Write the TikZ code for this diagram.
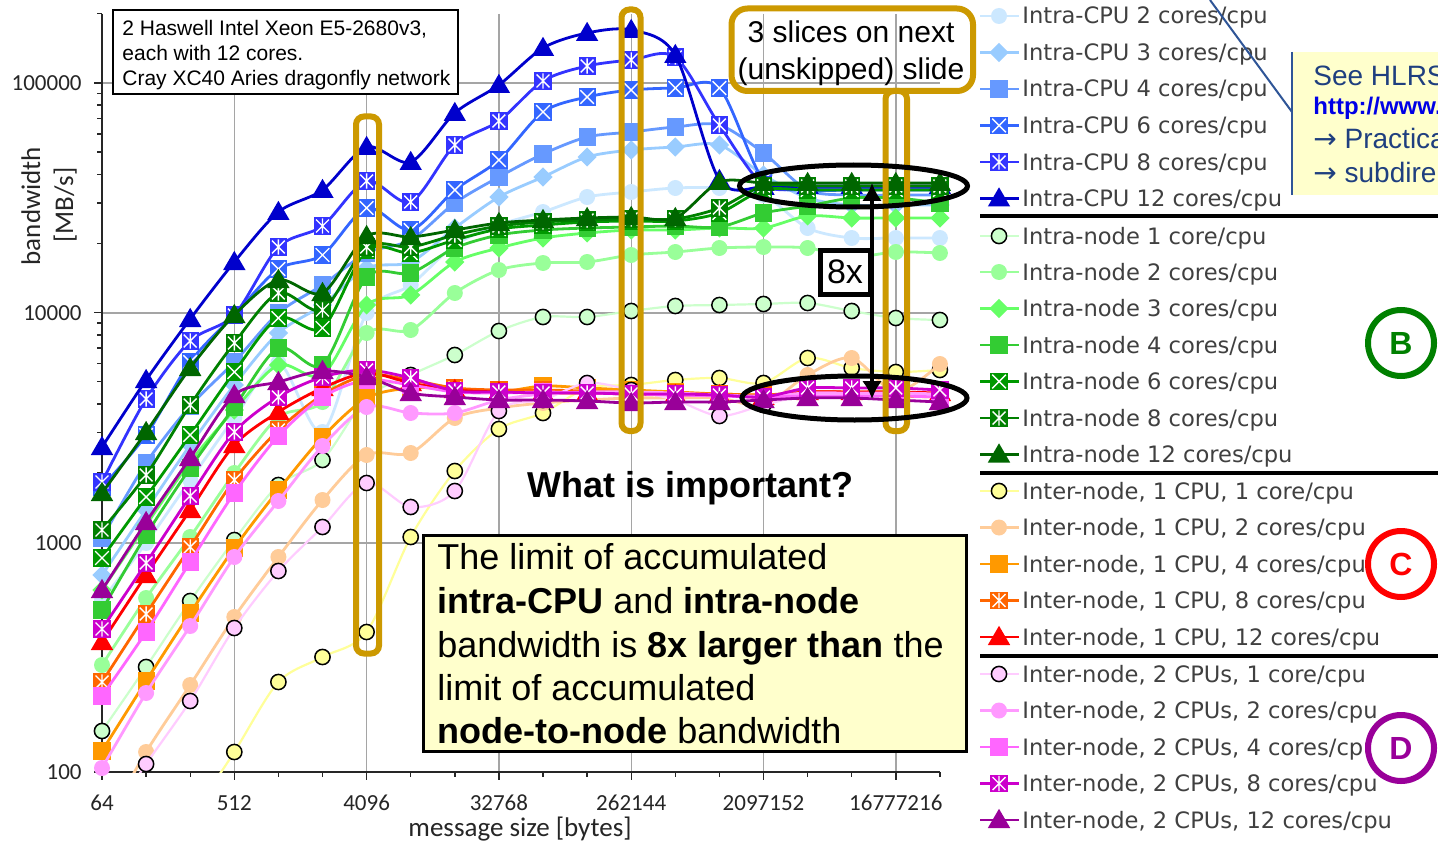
\documentclass[tikz,border=0pt]{standalone}
\usepackage{fontspec}
\setmainfont{Liberation Sans}
\newfontfamily\calfont{Carlito}
\newfontfamily\dvfont{DejaVu Sans}
\usetikzlibrary{arrows.meta}

\definecolor{cA}{RGB}{204,232,255}
\definecolor{cB}{RGB}{153,204,255}
\definecolor{cC}{RGB}{102,153,255}
\definecolor{cD}{RGB}{51,102,255}
\definecolor{cE}{RGB}{51,51,255}
\definecolor{cF}{RGB}{0,0,204}
\definecolor{gA}{RGB}{204,255,204}
\definecolor{gB}{RGB}{153,255,153}
\definecolor{gC}{RGB}{102,255,102}
\definecolor{gD}{RGB}{51,204,51}
\definecolor{gE}{RGB}{0,153,0}
\definecolor{gF}{RGB}{0,128,0}
\definecolor{gG}{RGB}{0,102,0}
\definecolor{yA}{RGB}{255,255,153}
\definecolor{yB}{RGB}{255,204,153}
\definecolor{yC}{RGB}{255,153,0}
\definecolor{yD}{RGB}{255,102,0}
\definecolor{yE}{RGB}{255,0,0}
\definecolor{pA}{RGB}{255,204,255}
\definecolor{pB}{RGB}{255,153,255}
\definecolor{pC}{RGB}{255,102,255}
\definecolor{pD}{RGB}{204,0,204}
\definecolor{pE}{RGB}{153,0,153}
\definecolor{goldc}{RGB}{204,153,0}
\definecolor{legtxt}{RGB}{64,64,64}
\definecolor{gridc}{RGB}{165,165,165}
\definecolor{hlrsblue}{RGB}{31,63,127}
\definecolor{hlrsbg}{RGB}{255,255,204}
\definecolor{callout}{RGB}{47,85,151}
\definecolor{linkblue}{RGB}{0,0,230}
\definecolor{noteyellow}{RGB}{255,255,204}
\definecolor{circB}{RGB}{0,128,0}
\definecolor{circD}{RGB}{153,0,153}

% markers
\newcommand\mkcirc[3]{\fill[#3] (#1,#2) circle[radius=4pt];}
\newcommand\mkcircb[3]{\filldraw[fill=#3,draw=black,line width=0.75pt] (#1,#2) circle[radius=3.8pt];}
\newcommand\mkdia[3]{\fill[#3,shift={(#1,#2)}] (0,4.8pt) -- (4.8pt,0) -- (0,-4.8pt) -- (-4.8pt,0) -- cycle;}
\newcommand\mksq[3]{\fill[#3,shift={(#1,#2)}] (-4.3pt,-4.3pt) rectangle (4.3pt,4.3pt);}
\newcommand\mkxb[3]{\fill[#3,shift={(#1,#2)}] (-4.3pt,-4.3pt) rectangle (4.3pt,4.3pt);
  \draw[white,line width=0.7pt,shift={(#1,#2)}] (-3.4pt,-3.4pt) -- (3.4pt,3.4pt) (-3.4pt,3.4pt) -- (3.4pt,-3.4pt);}
\newcommand\mkstb[3]{\fill[#3,shift={(#1,#2)}] (-4.3pt,-4.3pt) rectangle (4.3pt,4.3pt);
  \draw[white,line width=0.7pt,shift={(#1,#2)}] (-3.2pt,-3.2pt) -- (3.2pt,3.2pt) (-3.2pt,3.2pt) -- (3.2pt,-3.2pt) (0,-3.8pt) -- (0,3.8pt);}
\newcommand\mktri[3]{\fill[#3,shift={(#1,#2)}] (0,5.6pt) -- (5.6pt,-4pt) -- (-5.6pt,-4pt) -- cycle;}

% data series: #1 line style, #2 marker, #3 colour, #4 y list (pixels)
\newcommand\series[4]{%
  \gdef\coordlist{}%
  \foreach \yy [count=\ii from 0] in {#4}{%
    \pgfmathsetmacro\xx{102+44.1*\ii}%
    \xdef\coordlist{\coordlist (\xx,\yy)}}%
  \begin{scope}
    \clip (102,14) rectangle (940,772);
    \edef\tmp{\noexpand\draw[#1] plot[smooth,tension=0.5] coordinates {\coordlist};}\tmp
  \end{scope}
  \foreach \yy [count=\ii from 0] in {#4}{%
    \pgfmathsetmacro\xx{102+44.1*\ii}%
    \ifdim\yy pt<776pt\relax \csname mk#2\endcsname{\xx}{\yy}{#3}\fi}%
}

% legend row: #1 name, #2 y, #3 colour, #4 marker, #5 line width, #6 text
\newcommand\legrow[6]{%
  \draw[#3,line width=#5] (980,#2) -- (1019,#2);
  \csname mk#4\endcsname{999}{#2}{#3}%
  \node[legtext,anchor=base west] (#1) at (1022,#2+8) {#6};}

\begin{document}
\begin{tikzpicture}[x=0.5pt,y=-0.5pt,
  legtext/.style={inner sep=0pt,text=legtxt,font=\dvfont\fontsize{11.3}{13}\selectfont},
  ticklab/.style={inner sep=0pt,text=black!85,font=\calfont\fontsize{11.5}{13}\selectfont},
  axtitle/.style={inner sep=0pt,text=black!85,font=\calfont\fontsize{13.5}{15}\selectfont},
  gridline/.style={gridc,line width=0.7pt},
  axisline/.style={black!85,line width=0.7pt},
  goldbox/.style={goldc,line width=3pt},
  notetext/.style={inner sep=0pt,anchor=base west,font=\fontsize{18}{21}\selectfont},
  infotext/.style={inner sep=0pt,anchor=base west,font=\fontsize{10.5}{12}\selectfont},
  hlrstext/.style={inner sep=0pt,anchor=base west,text=hlrsblue,font=\fontsize{14}{16}\selectfont},
  sep/.style={black,line width=1.6pt},
  letterring/.style={line width=3pt,fill=white}]
\useasboundingbox (0,0) rectangle (1438,845);
\fill[white] (0,0) rectangle (1438,845);

% grid
\foreach \gx in {3,6,9,12,15,18} \draw[gridline] ({102+44.1*\gx},14) -- ({102+44.1*\gx},772);
\foreach \gy in {83,313,543} \draw[gridline] (102,\gy) -- (940,\gy);

% axes
\draw[axisline] (102,14) -- (102,772) -- (940,772);
\foreach \d in {0,1,2,3}{%
  \draw[axisline] (94,{772-229.7*\d}) -- (102,{772-229.7*\d});
  \foreach \k in {2,...,9} \draw[axisline] (97,{772-229.7*(\d+log10(\k))}) -- (102,{772-229.7*(\d+log10(\k))});
}
\draw[axisline] (97,13.8) -- (102,13.8);
\foreach \ii in {0,...,19} \draw[axisline] ({102+44.1*\ii},772) -- ({102+44.1*\ii},777);
\foreach \ii in {0,3,...,18} \draw[axisline] ({102+44.1*\ii},772) -- ({102+44.1*\ii},780);

% tick labels
\node[ticklab,anchor=east] (y5) at (82,83) {100000};
\node[ticklab,anchor=east] (y4) at (82,313) {10000};
\node[ticklab,anchor=east] (y3) at (82,543) {1000};
\node[ticklab,anchor=east] (y2) at (82,772) {100};
\node[ticklab,anchor=base] (x6) at (102,810) {64};
\node[ticklab,anchor=base] (x9) at (234.3,810) {512};
\node[ticklab,anchor=base] (x12) at (366.6,810) {4096};
\node[ticklab,anchor=base] (x15) at (498.9,810) {32768};
\node[ticklab,anchor=base] (x18) at (631.2,810) {262144};
\node[ticklab,anchor=base] (x21) at (763.5,810) {2097152};
\node[ticklab,anchor=base] (x24) at (895.8,810) {16777216};
\node[axtitle,anchor=base] (xt) at (520,836) {message size [bytes]};
\node[axtitle,anchor=base,rotate=90] (yt1) at (40,206) {bandwidth};
\node[axtitle,anchor=base,rotate=90] (yt2) at (73,205) {[MB/s]};

% series
\series{cA,line width=1.4pt}{circ}{cA}{600,543,480,418,363,432,313,285,245,225,212,197,192,188,188,195,228,238,238,238}
\series{cB,line width=1.4pt}{dia}{cB}{575,510,445,385,333,305,268,262,228,197,177,157,150,147,145,175,198,205,205,205}
\series{cC,line width=1.4pt}{sq}{cC}{538,463,406,362,313,285,253,240,203,177,154,137,132,127,125,153,190,195,195,195}
\series{cD,line width=1.4pt}{xb}{cD}{487,435,362,315,269,255,208,230,190,160,112,97,90,88,88,180,190,190,190,190}
\series{cE,line width=1.4pt}{stb}{cE}{482,399,341,315,247,226,181,202,145,121,81,66,60,57,125,185,188,188,188,188}
\series{cF,line width=1.4pt}{tri}{cF}{447,380,319,262,212,190,147,162,113,85,48,33,30,55,180,187,186,186,186,186}
\series{gA,line width=1.1pt}{circb}{gA}{731,667,601,540,485,460,398,375,355,331,317,317,311,306,305,304,303,311,318,320}
\series{gB,line width=1.4pt}{circ}{gB}{665,598,537,473,417,402,333,330,293,270,263,262,255,252,248,247,248,257,252,253}
\series{gC,line width=1.4pt}{dia}{gC}{590,525,462,410,365,375,305,295,262,248,238,233,230,230,228,228,216,218,218,218}
\series{gD,line width=1.4pt}{sq}{gD}{610,535,468,407,348,365,277,273,248,235,230,228,227,226,227,213,206,198,198,203}
\series{gE,line width=1.4pt}{xb}{gE}{558,497,435,372,318,328,250,253,240,229,225,222,221,221,213,190,190,190,190,190}
\series{gF,line width=1.4pt}{stb}{gF}{530,475,405,343,293,310,247,247,235,226,222,220,219,219,208,186,186,186,186,186}
\series{gG,line width=1.4pt}{tri}{gG}{493,432,368,315,280,293,236,237,230,223,220,218,217,218,182,183,183,183,183,183}
\series{yA,line width=1.1pt}{circb}{yA}{1000,900,820,752,682,657,632,537,471,429,413,388,385,380,378,383,358,368,372,370}
\series{yB,line width=1.4pt}{circ}{yB}{830,752,685,617,557,500,455,453,418,408,403,400,398,398,398,405,375,358,392,364}
\series{yC,line width=1.4pt}{sq}{yC}{751,681,613,548,490,437,398,388,389,392,386,388,390,392,394,395,395,395,396,397}
\series{yD,line width=1.4pt}{stb}{yD}{682,614,547,480,430,395,375,380,388,390,390,391,392,393,394,395,392,392,392,395}
\series{yE,line width=1.4pt}{tri}{yE}{642,575,510,445,412,388,373,383,390,392,393,393,394,395,395,397,392,392,392,393}
\series{pA,line width=1.1pt}{circb}{pA}{830,764,701,628,571,527,483,507,491,411,400,383,390,400,416,405,395,395,395,395}
\series{pB,line width=1.4pt}{circ}{pB}{768,693,626,557,501,446,407,413,413,400,394,392,392,393,395,396,393,393,393,394}
\series{pC,line width=1.4pt}{sq}{pC}{696,632,562,493,436,397,380,385,392,393,392,393,394,395,396,397,396,396,396,397}
\series{pD,line width=1.4pt}{stb}{pD}{629,563,496,432,397,377,370,378,391,392,393,393,394,394,395,397,388,388,388,390}
\series{pE,line width=1.4pt}{tri}{pE}{590,522,458,395,382,371,377,393,397,400,400,401,403,402,402,400,398,398,400,402}

% gold slice boxes
\draw[goldbox,rounded corners=4pt] (356,116.5) rectangle (379,653.5);
\draw[goldbox,rounded corners=4pt] (621.5,9.5) rectangle (640.5,431);
\draw[goldbox,rounded corners=4pt] (885.5,91) rectangle (907,431);
\draw[goldbox,rounded corners=8pt] (731.5,8.5) rectangle (973,91);
\node[inner sep=0pt,anchor=base,font=\fontsize{15}{17}\selectfont] (sl1) at (851,43) {3 slices on next};
\node[inner sep=0pt,anchor=base,font=\fontsize{15}{17}\selectfont] (sl2) at (851,80) {(unskipped) slide};

% ellipses and 8x arrow
\draw[black,line width=2.5pt] (853.5,186) ellipse [x radius=57pt, y radius=10.5pt];
\draw[black,line width=2.5pt] (854.5,398) ellipse [x radius=56.25pt, y radius=11pt];
\coordinate (atop) at (872,183);
\coordinate (abot) at (872,399);
\draw[black,line width=2pt,{Latex[length=9pt,width=10pt]}-{Latex[length=9pt,width=10pt]}] (atop) -- (abot);
\node[draw=black,line width=2.5pt,fill=white,minimum width=25pt,minimum height=22pt,inner sep=0pt,font=\fontsize{17}{19}\selectfont] (eightx) at (845,272) {8x};

% info box top left
\draw[black,line width=0.8pt,fill=white] (113,10) rectangle (458,94);
\node[infotext] (i1) at (122,36) {2 Haswell Intel Xeon E5-2680v3,};
\node[infotext] (i2) at (122,61) {each with 12 cores.};
\node[infotext] (i3) at (122,86) {Cray XC40 Aries dragonfly network};

% question
\node[inner sep=0pt,anchor=base,font=\bfseries\fontsize{18}{21}\selectfont] (q) at (690.5,497) {What is important?};

% conclusion box
\draw[black,line width=1.5pt,fill=noteyellow] (423,535) rectangle (966,751.5);
\node[notetext] (n1) at (437,569) {The limit of accumulated};
\node[notetext] (n2) at (437,613) {\textbf{intra-CPU} and \textbf{intra-node}};
\node[notetext] (n3) at (437,657) {bandwidth is \textbf{8x larger than} the};
\node[notetext] (n4) at (437,700) {limit of accumulated};
\node[notetext] (n5) at (437,743) {\textbf{node-to-node} bandwidth};

% legend
\legrow{lA}{16}{cA}{circ}{1.4pt}{Intra-CPU 2 cores/cpu}
\legrow{lB}{52.5}{cB}{dia}{1.4pt}{Intra-CPU 3 cores/cpu}
\legrow{lC}{89}{cC}{sq}{1.4pt}{Intra-CPU 4 cores/cpu}
\legrow{lD}{125.5}{cD}{xb}{1.4pt}{Intra-CPU 6 cores/cpu}
\legrow{lE}{162}{cE}{stb}{1.4pt}{Intra-CPU 8 cores/cpu}
\legrow{lF}{198.5}{cF}{tri}{1.4pt}{Intra-CPU 12 cores/cpu}
\draw[sep] (980,216) -- (1438,216);
\legrow{lG}{236}{gA}{circb}{1.1pt}{Intra-node 1 core/cpu}
\legrow{lH}{272}{gB}{circ}{1.4pt}{Intra-node 2 cores/cpu}
\legrow{lI}{308.5}{gC}{dia}{1.4pt}{Intra-node 3 cores/cpu}
\legrow{lJ}{345}{gD}{sq}{1.4pt}{Intra-node 4 cores/cpu}
\legrow{lK}{381.5}{gE}{xb}{1.4pt}{Intra-node 6 cores/cpu}
\legrow{lL}{418}{gF}{stb}{1.4pt}{Intra-node 8 cores/cpu}
\legrow{lM}{454.5}{gG}{tri}{1.4pt}{Intra-node 12 cores/cpu}
\draw[sep] (980,473) -- (1438,473);
\legrow{lN}{491}{yA}{circb}{1.1pt}{Inter-node, 1 CPU, 1 core/cpu}
\legrow{lO}{527.5}{yB}{circ}{1.4pt}{Inter-node, 1 CPU, 2 cores/cpu}
\legrow{lP}{564}{yC}{sq}{1.4pt}{Inter-node, 1 CPU, 4 cores/cpu}
\legrow{lQ}{600.5}{yD}{stb}{1.4pt}{Inter-node, 1 CPU, 8 cores/cpu}
\legrow{lR}{637}{yE}{tri}{1.4pt}{Inter-node, 1 CPU, 12 cores/cpu}
\draw[sep] (980,656) -- (1438,656);
\legrow{lS}{674}{pA}{circb}{1.1pt}{Inter-node, 2 CPUs, 1 core/cpu}
\legrow{lT}{710.5}{pB}{circ}{1.4pt}{Inter-node, 2 CPUs, 2 cores/cpu}
\legrow{lU}{747}{pC}{sq}{1.4pt}{Inter-node, 2 CPUs, 4 cores/cpu}
\legrow{lV}{783.5}{pD}{stb}{1.4pt}{Inter-node, 2 CPUs, 8 cores/cpu}
\legrow{lW}{820}{pE}{tri}{1.4pt}{Inter-node, 2 CPUs, 12 cores/cpu}

% HLRS callout
\coordinate (cs) at (1210,0);
\coordinate (ce) at (1292,112);
\draw[callout,line width=1pt] (cs) -- (ce);
\fill[hlrsbg] (1292,52) rectangle (1438,195);
\draw[callout,line width=1.2pt] (1292,52) -- (1292,195);
\node[hlrstext] (h1) at (1313,86) {See HLRS};
\node[inner sep=0pt,anchor=base west,text=linkblue,font=\bfseries\fontsize{12}{14}\selectfont] (h2) at (1313,115) {http://www.};
\node[hlrstext] (h3) at (1313,149) {{\dvfont →} Practica};
\node[hlrstext] (h4) at (1313,183) {{\dvfont →} subdire};

% group letters
\draw[letterring,draw=circB] (1401,343) circle[radius=16.5pt];
\node[inner sep=0pt,text=circB,font=\bfseries\fontsize{16}{18}\selectfont] (lb) at (1401,343) {B};
\draw[letterring,draw=red] (1401,564) circle[radius=16.5pt];
\node[inner sep=0pt,text=red,font=\bfseries\fontsize{16}{18}\selectfont] (lc) at (1401,564) {C};
\draw[letterring,draw=circD] (1401,748) circle[radius=16.5pt];
\node[inner sep=0pt,text=circD,font=\bfseries\fontsize{16}{18}\selectfont] (ld) at (1401,748) {D};
\end{tikzpicture}
\end{document}
